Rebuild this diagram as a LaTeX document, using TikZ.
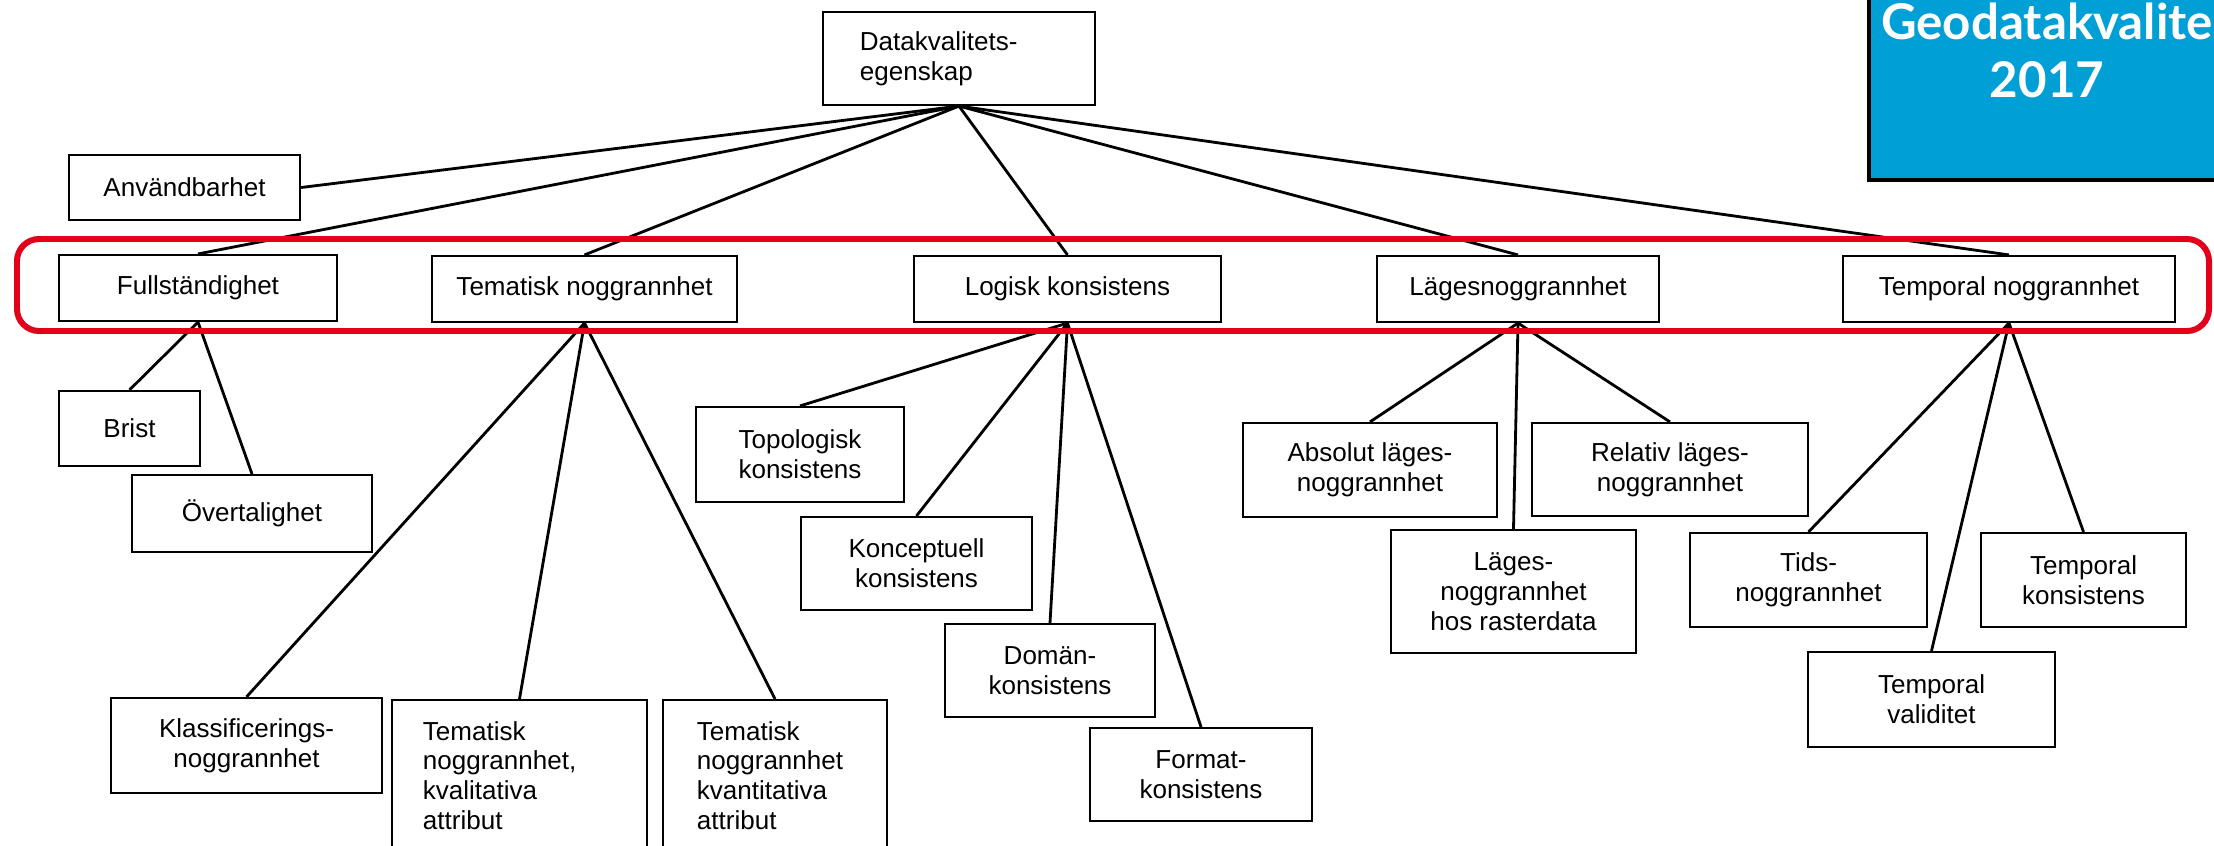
\documentclass[tikz,border=0pt]{standalone}
\usepackage{fontspec}
\setmainfont{Liberation Sans}
\newfontfamily\geofont{Lato}
\usepackage{tikz}
\definecolor{geoblue}{RGB}{0,160,214}
\definecolor{framered}{RGB}{226,0,26}
\tikzstyle{box} = [draw, rectangle, line width=0.6pt, align=center, inner sep=0pt, font=\fontsize{7.4}{8.5}\selectfont]
\tikzstyle{lbox} = [box, align=left]
\tikzstyle{link} = [line width=0.8pt]
\tikzstyle{frame} = [draw=framered, line width=1.7pt, rounded corners=0.22cm]

\begin{document}
\begin{tikzpicture}[x=0.01cm, y=-0.01cm]
	\useasboundingbox (0,0) rectangle (2214,845);
	% blue title panel
	\fill [geoblue] (1869,0) rectangle (2214,180);
	\draw [line width=1pt] (1869,0) -- (1869,180) -- (2214,180);
	\node (geo) [font=\geofont\bfseries\fontsize{14}{16.5}\selectfont, text=white, align=center, inner sep=0pt] at (2047,50) {Geodatakvalite\\2017};
	% root
	\node (top) [lbox, text width=1.98cm, inner xsep=0.37cm, minimum height=0.93cm] at (959,58.5) {Datakvalitets-\\egenskap};
	\node (use) [box, minimum width=2.31cm, minimum height=0.65cm] at (184.5,187.5) {Användbarhet};
	% main row
	\node (full) [box, minimum width=2.78cm, minimum height=0.66cm] at (198,288) {Fullständighet};
	\node (tem) [box, minimum width=3.05cm, minimum height=0.66cm] at (584.5,289) {Tematisk noggrannhet};
	\node (log) [box, minimum width=3.07cm, minimum height=0.66cm] at (1067.5,289) {Logisk konsistens};
	\node (lag) [box, minimum width=2.82cm, minimum height=0.66cm] at (1518,289) {Lägesnoggrannhet};
	\node (tmp) [box, minimum width=3.32cm, minimum height=0.66cm] at (2009,289) {Temporal noggrannhet};
	% children
	\node (brist) [box, minimum width=1.41cm, minimum height=0.75cm] at (129.5,428.5) {Brist};
	\node (overt) [box, minimum width=2.40cm, minimum height=0.77cm] at (252,513.5) {Övertalighet};
	\node (klass) [box, minimum width=2.71cm, minimum height=0.95cm] at (246.5,745.5) {Klassificerings-\\noggrannhet};
	\node (kval) [lbox, anchor=north, text width=1.93cm, inner xsep=0.31cm, inner ysep=0.2cm, text height=0.2cm, text depth=1.0cm] at (519.5,699) {Tematisk\\noggrannhet,\\kvalitativa\\attribut};
	\node (kvant) [lbox, anchor=north, text width=1.56cm, inner xsep=0.34cm, inner ysep=0.2cm, text height=0.2cm, text depth=1.0cm] at (775,699) {Tematisk\\noggrannhet\\kvantitativa\\attribut};
	\node (topo) [box, minimum width=2.08cm, minimum height=0.95cm] at (800,454.5) {Topologisk\\konsistens};
	\node (konc) [box, minimum width=2.31cm, minimum height=0.93cm] at (916.5,563.5) {Konceptuell\\konsistens};
	\node (doman) [box, minimum width=2.10cm, minimum height=0.93cm] at (1050,670.5) {Domän-\\konsistens};
	\node (format) [box, minimum width=2.22cm, minimum height=0.93cm] at (1201,774.5) {Format-\\konsistens};
	\node (abs) [box, minimum width=2.54cm, minimum height=0.94cm] at (1370,470) {Absolut läges-\\noggrannhet};
	\node (rel) [box, minimum width=2.76cm, minimum height=0.93cm] at (1670,469.5) {Relativ läges-\\noggrannhet};
	\node (rast) [box, minimum width=2.45cm, minimum height=1.23cm] at (1513.5,591.5) {Läges-\\noggrannhet\\hos rasterdata};
	\node (tids) [box, minimum width=2.37cm, minimum height=0.94cm] at (1808.5,580) {Tids-\\noggrannhet};
	\node (tkons) [box, minimum width=2.05cm, minimum height=0.94cm] at (2083.5,580) {Temporal\\konsistens};
	\node (valid) [box, minimum width=2.47cm, minimum height=0.95cm] at (1931.5,699.5) {Temporal\\validitet};
	% connectors
	\draw [link] (top.south) -- (use.east) {};
	\draw [link] (top.south) -- (full.north) {};
	\draw [link] (top.south) -- (tem.north) {};
	\draw [link] (top.south) -- (log.north) {};
	\draw [link] (top.south) -- (lag.north) {};
	\draw [link] (top.south) -- (tmp.north) {};
	\draw [link] (full.south) -- (brist.north) {};
	\draw [link] (full.south) -- (overt.north) {};
	\draw [link] (tem.south) -- (klass.north) {};
	\draw [link] (tem.south) -- (kval.north) {};
	\draw [link] (tem.south) -- (kvant.north) {};
	\draw [link] (log.south) -- (topo.north) {};
	\draw [link] (log.south) -- (konc.north) {};
	\draw [link] (log.south) -- (doman.north) {};
	\draw [link] (log.south) -- (format.north) {};
	\draw [link] (lag.south) -- (abs.north) {};
	\draw [link] (lag.south) -- (rast.north) {};
	\draw [link] (lag.south) -- (rel.north) {};
	\draw [link] (tmp.south) -- (tids.north) {};
	\draw [link] (tmp.south) -- (valid.north) {};
	\draw [link] (tmp.south) -- (tkons.north) {};
	% red frame round the main row
	\draw [frame] (17,239) rectangle (2209,331);
\end{tikzpicture}
\end{document}
